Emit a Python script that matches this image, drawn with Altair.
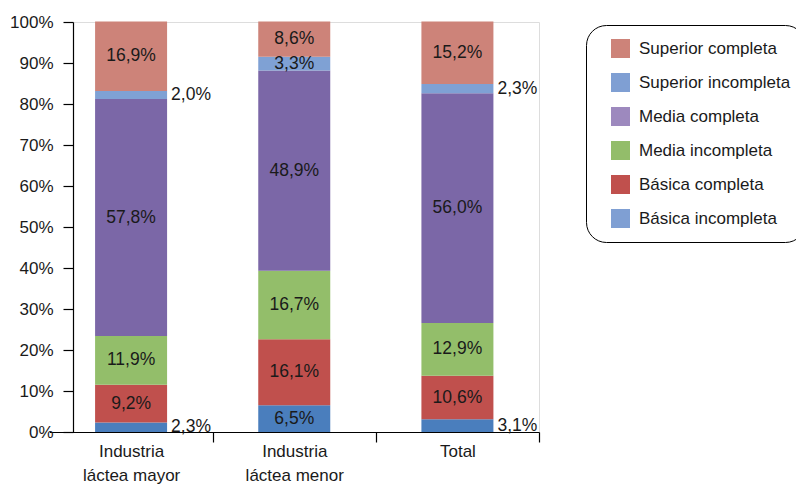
import altair as alt
import pandas as pd

FONT = "Liberation Sans, Arial, sans-serif"

categories = ["Industria|láctea mayor", "Industria|láctea menor", "Total"]
levels = ["Básica incompleta", "Básica completa", "Media incompleta",
          "Media completa", "Superior incompleta", "Superior completa"]
mayor = [2.3, 9.2, 11.9, 57.8, 2.0, 16.9]
menor = [6.5, 16.1, 16.7, 48.9, 3.3, 8.6]
total = [3.1, 10.6, 12.9, 56.0, 2.3, 15.2]
bar_colors = ["#4A7EBD", "#C0504D", "#93BE6A", "#7B67A7", "#7FA1D4", "#CD8379"]
legend_colors = ["#7F9FD3", "#C0504D", "#93BD6A", "#9D89BE", "#7F9FD3", "#CD8379"]

rows = []
for cat, vals in zip(categories, [mayor, menor, total]):
    for i, (lev, v) in enumerate(zip(levels, vals)):
        rows.append({"cat": cat, "level": lev, "ord": i, "value": v,
                     "label": f"{v:.1f}%".replace(".", ",")})
df = pd.DataFrame(rows)

base = alt.Chart(df).transform_stack(
    stack="value", groupby=["cat"], sort=[alt.SortField("ord", order="ascending")], as_=["v0", "v1"]
).transform_calculate(mid="(datum.v0 + datum.v1) / 2")

x_scale = alt.Scale(domain=categories, range=[-23.5, 466], paddingInner=0, paddingOuter=0)
x_enc = alt.X("cat:N", sort=categories, title=None, scale=x_scale,
              axis=alt.Axis(labelExpr="isString(datum.value) ? split(datum.value, '|') : ''",
                            labelAngle=0, tickBand="extent", tickSize=10, labelPadding=1,
                            labelFontSize=17, labelLineHeight=24, labelFont=FONT,
                            labelColor="#1a1a1a", domainColor="black",
                            tickColor={"condition": {"test": "!isString(datum.value)",
                                                     "value": "transparent"},
                                       "value": "black"},
                            domainWidth=1.2, tickWidth=1.2, labelBaseline="top"))
y_scale = alt.Scale(domain=[0, 100], nice=False)
y_axis = alt.Axis(values=list(range(0, 101, 10)), labelExpr="datum.value + '%'",
                  tickSize=10, labelPadding=10, labelFontSize=17, labelFont=FONT,
                  labelColor="#1a1a1a", grid=False, domainColor="black", tickColor="black",
                  domainWidth=1.2, tickWidth=1.2)

bars = base.mark_bar(size=72).encode(
    x=x_enc,
    y=alt.Y("v0:Q", scale=y_scale, axis=y_axis, title=None),
    y2="v1:Q",
    color=alt.Color("level:N", scale=alt.Scale(domain=levels, range=bar_colors), legend=None),
)

inside = base.transform_filter(alt.datum.value >= 3.2).mark_text(
    fontSize=17.5, font=FONT, color="#1a1a1a", align="center", baseline="middle"
).encode(x=alt.X("cat:N", sort=categories, scale=x_scale),
         y=alt.Y("mid:Q", scale=y_scale), text="label:N")

outside = base.transform_filter(alt.datum.value < 3.2).mark_text(
    fontSize=17.5, font=FONT, color="#1a1a1a", align="left", baseline="middle", dx=40
).encode(x=alt.X("cat:N", sort=categories, scale=x_scale),
         y=alt.Y("mid:Q", scale=y_scale), text="label:N")

legend_order = levels[::-1]
legend_layer = base.mark_point(shape="square", filled=True, opacity=0).encode(
    x=alt.X("cat:N", sort=categories, scale=x_scale),
    y=alt.Y("mid:Q", scale=y_scale),
    fill=alt.Fill("level:N",
                  scale=alt.Scale(domain=legend_order, range=legend_colors[::-1]),
                  legend=alt.Legend(title=None, orient="none", legendX=513, legendY=3,
                                    strokeColor="black", cornerRadius=20, padding=14,
                                    fillColor="white", symbolType="square", symbolSize=361,
                                    symbolOpacity=1, symbolStrokeWidth=0,
                                    labelFontSize=17, labelFont=FONT, labelColor="#1a1a1a",
                                    rowPadding=15, labelOffset=9, symbolOffset=11,
                                    labelLimit=300)),
)

chart = alt.layer(bars, inside, outside, legend_layer).properties(
    width=466, height=410,
    autosize=alt.AutoSizeParams(type="none"),
    padding={"left": 73, "top": 22, "right": 257, "bottom": 53},
).configure_view(stroke=None).configure(background="white")

chart.save("out.html", embed_options={"renderer": "svg", "actions": False})
